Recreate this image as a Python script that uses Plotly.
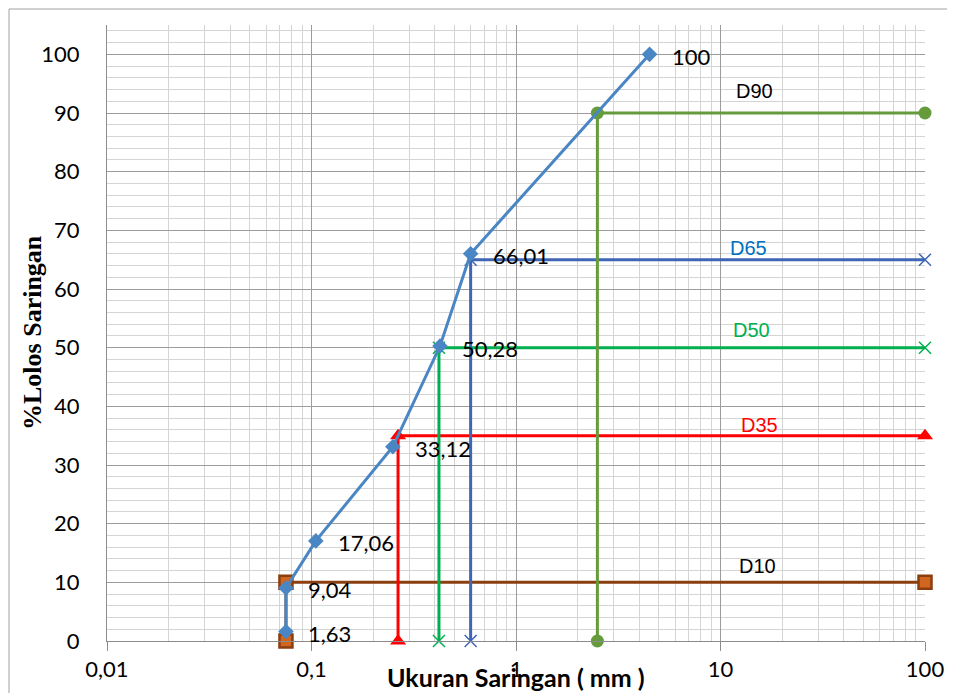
import math
import plotly.graph_objects as go

# ---------------- data ----------------
sieve_mm = [0.075, 0.075, 0.105, 0.25, 0.425, 0.6, 4.5]
percent_passing = [1.63, 9.04, 17.06, 33.12, 50.28, 66.01, 100]
point_labels = ["1,63", "9,04", "17,06", "33,12", "50,28", "66,01", "100"]

d_names = ["D10", "D35", "D50", "D65", "D90"]
d_percent = [10, 35, 50, 65, 90]
d_size_mm = [0.075, 0.265, 0.42, 0.6, 2.5]
x_end = 100

x_tickvals = [0.01, 0.1, 1, 10, 100]
x_ticktext = ["0,01", "0,1", "1", "10", "100"]
y_tickvals = [0, 10, 20, 30, 40, 50, 60, 70, 80, 90, 100]

# ---------------- styles ----------------
d_styles = {
    "D10": dict(line="#8B3E0E", marker=dict(symbol="square", size=13, color="#D0661F",
                                            line=dict(color="#8B3E0E", width=2.5)),
                label_color="#000000", label_x=15.1, label_shift=16),
    "D35": dict(line="#FF0000", marker=dict(symbol="triangle-up", size=14, color="#FF0000"),
                label_color="#FF0000", label_x=15.6, label_shift=11),
    "D50": dict(line="#00B050", marker=dict(symbol="x-thin", size=12, color="#00B050",
                                            line=dict(color="#00B050", width=1.5)),
                label_color="#00B050", label_x=14.2, label_shift=18),
    "D65": dict(line="#3F66B5", marker=dict(symbol="x-thin", size=12, color="#3F66B5",
                                            line=dict(color="#3F66B5", width=1.5)),
                label_color="#0070C0", label_x=13.7, label_shift=12),
    "D90": dict(line="#659B3A", marker=dict(symbol="circle", size=13, color="#659B3A"),
                label_color="#000000", label_x=14.6, label_shift=22),
}

fig = go.Figure()

for name, p, d in zip(d_names, d_percent, d_size_mm):
    st = d_styles[name]
    fig.add_trace(go.Scatter(
        x=[d, d, x_end], y=[0, p, p], mode="lines+markers", name=name,
        line=dict(color=st["line"], width=3), marker=st["marker"],
        cliponaxis=False, showlegend=False,
    ))

fig.add_trace(go.Scatter(
    x=sieve_mm, y=percent_passing, mode="lines+markers", name="% Lolos",
    line=dict(color="#4A86C4", width=3),
    marker=dict(symbol="diamond", size=12, color="#4A86C4"),
    cliponaxis=False, showlegend=False,
))

annotations = []
for x, y, t in zip(sieve_mm, percent_passing, point_labels):
    annotations.append(dict(x=math.log10(x), y=y, xref="x", yref="y", text=t, showarrow=False,
                            xanchor="left", yanchor="middle", xshift=20, yshift=-2,
                            font=dict(family="Lato", size=22, color="#000000")))
for name, p in zip(d_names, d_percent):
    st = d_styles[name]
    annotations.append(dict(x=math.log10(st["label_x"]), y=p, xref="x", yref="y", text=name,
                            showarrow=False, xanchor="center", yanchor="middle",
                            yshift=st["label_shift"],
                            font=dict(family="Liberation Sans", size=20, color=st["label_color"])))

annotations.append(dict(x=0.5, y=0, xref="paper", yref="paper", text="<b>Ukuran Saringan ( mm )</b>",
                        showarrow=False, xanchor="center", yanchor="middle", yshift=-36,
                        font=dict(family="Lato", size=25, color="#000000")))
annotations.append(dict(x=0, y=0.5, xref="paper", yref="paper", text="<b>%Lolos Saringan</b>",
                        showarrow=False, xanchor="center", yanchor="middle", xshift=-75,
                        textangle=-90,
                        font=dict(family="Liberation Serif", size=26, color="#000000")))

# the page body adds an 8px margin; size the figure to compensate
fig.update_layout(
    width=947, height=685,
    margin=dict(l=99, r=30, t=17, b=52),
    paper_bgcolor="white", plot_bgcolor="white",
    annotations=annotations,
    shapes=[dict(type="rect", xref="paper", yref="paper",
                 x0=(9 - 107) / 818, x1=1.3, y0=-0.3, y1=(641 - 9) / 616,
                 line=dict(color="#A0A0A0", width=1), fillcolor="rgba(0,0,0,0)", layer="below")],
)

fig.update_xaxes(
    type="log", range=[-2, 2],
    tickvals=x_tickvals, ticktext=x_ticktext,
    tickfont=dict(family="Lato", size=22, color="#000000"),
    ticks="outside", ticklen=9, tickcolor="#8C8C8C",
    showgrid=True, gridcolor="#9C9C9C", gridwidth=1,
    minor=dict(dtick="D1", showgrid=True, gridcolor="#D4D4D4", gridwidth=1, ticks=""),
    showline=True, linecolor="#8C8C8C", linewidth=1,
    zeroline=False,
)
fig.update_yaxes(
    range=[0, 105], tickvals=y_tickvals,
    tickfont=dict(family="Lato", size=22, color="#000000"),
    ticks="", ticklabelstandoff=22,
    showgrid=True, gridcolor="#9C9C9C", gridwidth=1,
    minor=dict(dtick=2, showgrid=True, gridcolor="#D4D4D4", gridwidth=1),
    showline=True, linecolor="#8C8C8C", linewidth=1,
    zeroline=False,
)

fig.write_html("out.html")
